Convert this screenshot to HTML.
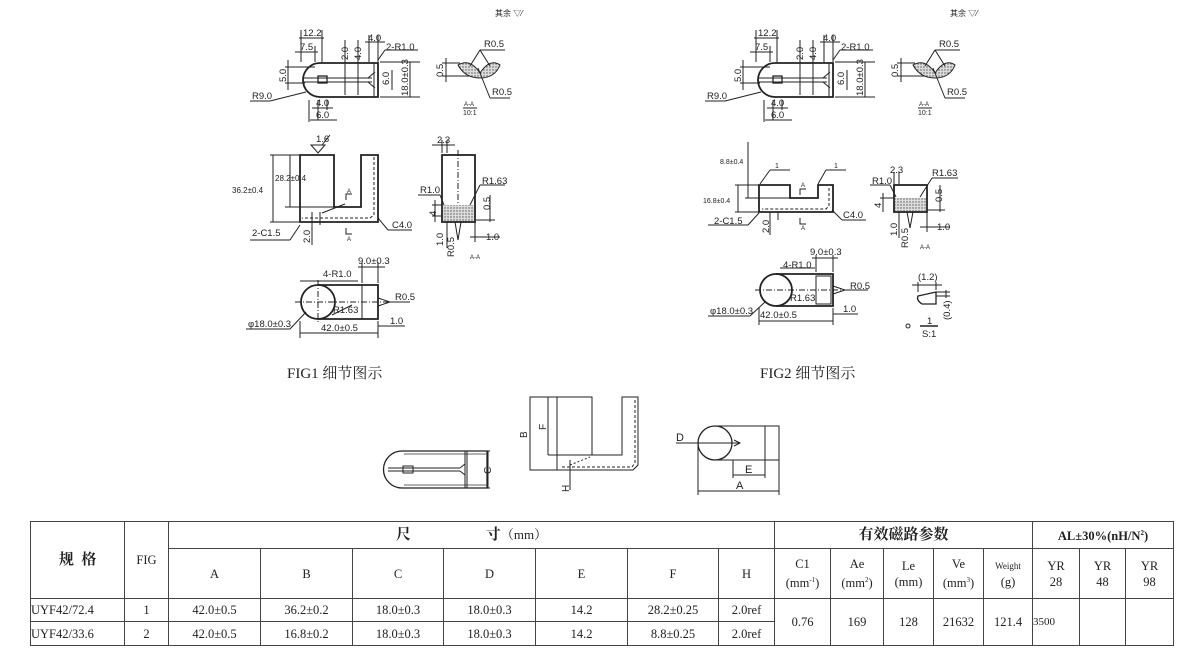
<!DOCTYPE html>
<html><head><meta charset="utf-8"><style>
body{margin:0;background:#fff;width:1180px;height:665px;overflow:hidden;position:relative;font-family:"Liberation Sans","Noto Sans CJK SC",sans-serif}
svg{position:absolute;left:0;top:0}
svg text{font-family:"Liberation Sans","Noto Sans CJK SC",sans-serif;font-size:9.5px;fill:#222}
.cap{position:absolute;font-family:"Liberation Serif","Noto Serif CJK SC",serif;font-size:15px;color:#222}
table{position:absolute;left:30px;top:521px;border-collapse:collapse;table-layout:fixed;font-family:"Liberation Serif","Noto Serif CJK SC",serif;color:#222}
td{border:1px solid #444;text-align:center;font-size:12.5px;padding:0;line-height:16px}
.h{font-size:15px;font-weight:bold}
</style></head><body>
<svg width="1180" height="665" viewBox="0 0 1180 665">
<defs>
<pattern id="dots" width="3" height="3" patternUnits="userSpaceOnUse"><rect width="3" height="3" fill="#ddd"/><circle cx="1" cy="1" r="0.7" fill="#555"/></pattern>
<g id="top" stroke="#222" fill="none" stroke-width="1">
 <path d="M320 63 L378 63 L378 97 L320 97 A17 17 0 0 1 320 63 Z" stroke-width="1.8"/>
 <line x1="304" y1="78" x2="372" y2="78"/><line x1="304" y1="82" x2="372" y2="82"/>
 <path d="M368 78 L375 72 M368 82 L375 88"/>
 <rect x="318" y="76" width="9" height="7" stroke-width="1.3"/>
 <line x1="374" y1="63" x2="374" y2="97"/>
 <line x1="301" y1="30" x2="301" y2="62"/><line x1="322" y1="30" x2="322" y2="62"/><line x1="299" y1="38" x2="324" y2="38"/>
 <line x1="315" y1="46" x2="315" y2="62"/><line x1="295" y1="52" x2="318" y2="52"/>
 <line x1="345" y1="40" x2="345" y2="95"/><line x1="358" y1="40" x2="358" y2="95"/>
 <line x1="369" y1="35" x2="369" y2="62"/><line x1="378" y1="35" x2="378" y2="62"/><line x1="365" y1="42" x2="385" y2="42"/>
 <line x1="380" y1="62" x2="420" y2="62"/><line x1="380" y1="97" x2="420" y2="97"/><line x1="410" y1="62" x2="410" y2="97"/><line x1="392" y1="70" x2="392" y2="90"/>
 <line x1="378" y1="60" x2="385" y2="50"/><line x1="385" y1="50" x2="418" y2="50"/>
 <line x1="285" y1="67" x2="315" y2="67"/><line x1="285" y1="83" x2="305" y2="83"/><line x1="288" y1="60" x2="288" y2="90"/>
 <line x1="250" y1="101" x2="270" y2="101"/><line x1="270" y1="101" x2="306" y2="92"/>
 <line x1="318" y1="100" x2="318" y2="120"/><line x1="327" y1="100" x2="327" y2="110"/><line x1="312" y1="108" x2="333" y2="108"/>
 <line x1="309" y1="100" x2="309" y2="122"/><line x1="310" y1="120" x2="337" y2="120"/>
 <path d="M458 65 Q470 58 480 73 Q490 58 500 65 Q495 78 480 78 Q465 78 458 65 Z" fill="url(#dots)"/>
 <line x1="442" y1="63" x2="460" y2="63"/><line x1="442" y1="76" x2="470" y2="76"/><line x1="446" y1="58" x2="446" y2="82"/>
 <line x1="470" y1="66" x2="480" y2="50"/><line x1="490" y1="66" x2="480" y2="50"/><line x1="480" y1="50" x2="505" y2="50"/>
 <line x1="478" y1="68" x2="490" y2="98"/><line x1="490" y1="98" x2="510" y2="98"/>
 <line x1="463" y1="108" x2="477" y2="108"/>
</g>
<g id="toptx">
 <text x="303" y="36">12.2</text><text x="300" y="50">7.5</text><text x="368" y="41">4.0</text><text x="386" y="50">2-R1.0</text>
 <text x="348" y="60" transform="rotate(-90 348 60)">2.0</text><text x="361" y="60" transform="rotate(-90 361 60)">4.0</text>
 <text x="389" y="85" transform="rotate(-90 389 85)">6.0</text><text x="408" y="96" transform="rotate(-90 408 96)">18.0±0.3</text>
 <text x="286" y="82" transform="rotate(-90 286 82)">5.0</text>
 <text x="252" y="99">R9.0</text><text x="316" y="106">4.0</text><text x="316" y="118">6.0</text>
 <text x="484" y="47">R0.5</text><text x="492" y="95">R0.5</text><text x="443" y="77" transform="rotate(-90 443 77)">0.5</text>
 <text x="464" y="106" style="font-size:6px">A-A</text><text x="463" y="115" style="font-size:7px">10:1</text>
 <text x="495" y="16" style="font-size:8px">其余 ▽⁄</text>
</g>
</defs>
<use href="#top"/><use href="#toptx"/>
<g transform="translate(455,0)"><use href="#top"/><use href="#toptx"/></g>

<g stroke="#222" fill="none" stroke-width="1">
 <path d="M300 155 L334 155 L334 207 L361 207 L361 155 L378 155 L378 222 L300 222 Z" stroke-width="1.8"/>
 <path d="M374 157 L374 215 L370 218 L302 218" stroke-dasharray="3,2"/>
 <line x1="270" y1="155" x2="300" y2="155"/><line x1="270" y1="222" x2="300" y2="222"/><line x1="273" y1="155" x2="273" y2="222"/>
 <line x1="285" y1="207" x2="334" y2="207"/><line x1="290" y1="155" x2="290" y2="207"/>
 <path d="M311 145 L325 145 L318 153 Z M322 145 L330 135"/>
 <line x1="312" y1="212" x2="312" y2="245"/><line x1="320" y1="212" x2="320" y2="225"/>
 <line x1="250" y1="240" x2="290" y2="240"/><line x1="290" y1="240" x2="300" y2="225"/>
 <line x1="378" y1="218" x2="388" y2="230"/><line x1="388" y1="230" x2="412" y2="230"/>
 <path d="M346 200 L346 194 L352 194 M346 228 L346 234 L352 234"/>
 <path d="M322 213 L345 204"/>
 <rect x="442" y="155" width="33" height="67" stroke-width="1.8"/>
 <rect x="443" y="205" width="31" height="16" fill="url(#dots)" stroke="none"/>
 <line x1="458" y1="150" x2="458" y2="205" stroke-dasharray="6,2,1,2"/>
 <path d="M455 222 L458 240 L461 222"/>
 <line x1="442" y1="140" x2="442" y2="153"/><line x1="447" y1="140" x2="447" y2="153"/><line x1="432" y1="145" x2="455" y2="145"/>
 <line x1="470" y1="205" x2="480" y2="185"/><line x1="480" y1="185" x2="505" y2="185"/>
 <line x1="418" y1="195" x2="440" y2="195"/><line x1="440" y1="195" x2="444" y2="205"/>
 <line x1="432" y1="205" x2="442" y2="205"/><line x1="432" y1="216" x2="442" y2="216"/><line x1="435" y1="200" x2="435" y2="222"/>
 <line x1="475" y1="220" x2="495" y2="220"/><line x1="490" y1="195" x2="490" y2="222"/>
 <line x1="447" y1="222" x2="447" y2="248"/><line x1="475" y1="222" x2="475" y2="242"/><line x1="470" y1="237" x2="500" y2="237"/>
 <circle cx="318" cy="302" r="17" stroke-width="1.8"/>
 <path d="M318 285 L378 285 L378 319 L318 319" stroke-width="1.8"/>
 <line x1="362" y1="285" x2="362" y2="319"/>
 <line x1="295" y1="302" x2="388" y2="302" stroke-dasharray="6,2,1,2"/><line x1="318" y1="280" x2="318" y2="324" stroke-dasharray="6,2,1,2"/>
 <path d="M378 298 L390 302 L378 306"/>
 <line x1="362" y1="262" x2="362" y2="283"/><line x1="378" y1="262" x2="378" y2="283"/><line x1="358" y1="267" x2="385" y2="267"/>
 <line x1="300" y1="281" x2="358" y2="281"/>
 <line x1="390" y1="302" x2="410" y2="302"/>
 <line x1="300" y1="321" x2="300" y2="338"/><line x1="378" y1="321" x2="378" y2="338"/><line x1="300" y1="333" x2="378" y2="333"/><line x1="378" y1="326" x2="405" y2="326"/>
 <line x1="246" y1="329" x2="290" y2="329"/><line x1="290" y1="329" x2="306" y2="312"/>
 <line x1="332" y1="315" x2="352" y2="305"/>
</g>
<g>
 <text x="316" y="142">1.6</text><text x="275" y="181" style="font-size:8px">28.2±0.4</text><text x="232" y="193" style="font-size:8px">36.2±0.4</text>
 <text x="252" y="236">2-C1.5</text><text x="392" y="228">C4.0</text><text x="310" y="243" transform="rotate(-90 310 243)">2.0</text>
 <text x="347" y="193" style="font-size:6px">A</text><text x="347" y="241" style="font-size:6px">A</text>
 <text x="437" y="143">2.3</text><text x="482" y="184">R1.63</text><text x="420" y="193">R1.0</text>
 <text x="436" y="216" transform="rotate(-90 436 216)">4</text><text x="490" y="210" transform="rotate(-90 490 210)">0.5</text>
 <text x="486" y="240">1.0</text><text x="443" y="246" transform="rotate(-90 443 246)">1.0</text><text x="454" y="257" transform="rotate(-90 454 257)">R0.5</text>
 <text x="470" y="259" style="font-size:6px">A-A</text>
 <text x="358" y="264">9.0±0.3</text><text x="323" y="277">4-R1.0</text><text x="333" y="313">R1.63</text><text x="395" y="300">R0.5</text>
 <text x="248" y="327">φ18.0±0.3</text><text x="321" y="331">42.0±0.5</text><text x="390" y="324">1.0</text>
</g>

<g stroke="#222" fill="none" stroke-width="1">
 <path d="M759 185 L790 185 L790 198 L818 198 L818 185 L833 185 L833 212 L759 212 Z" stroke-width="1.8"/>
 <path d="M829 188 L829 206 L826 209 L762 209" stroke-dasharray="3,2"/>
 <line x1="748" y1="142" x2="748" y2="198"/><line x1="735" y1="185" x2="759" y2="185"/><line x1="735" y1="212" x2="759" y2="212"/><line x1="738" y1="185" x2="738" y2="212"/>
 <line x1="745" y1="198" x2="790" y2="198"/>
 <line x1="760" y1="184" x2="770" y2="170"/><line x1="770" y1="170" x2="790" y2="170"/>
 <line x1="818" y1="184" x2="826" y2="170"/><line x1="826" y1="170" x2="846" y2="170"/>
 <line x1="708" y1="225" x2="748" y2="225"/><line x1="748" y1="225" x2="759" y2="213"/>
 <line x1="832" y1="210" x2="842" y2="220"/><line x1="842" y1="220" x2="866" y2="220"/>
 <line x1="770" y1="212" x2="770" y2="235"/><line x1="778" y1="212" x2="778" y2="220"/>
 <path d="M800 195 L800 189 L806 189 M800 218 L800 224 L806 224"/>
 <rect x="894" y="185" width="33" height="27" stroke-width="1.8"/>
 <rect x="895" y="198" width="31" height="13" fill="url(#dots)" stroke="none"/>
 <path d="M907 212 L910 228 L913 212"/>
 <line x1="894" y1="172" x2="894" y2="184"/><line x1="899" y1="172" x2="899" y2="184"/>
 <line x1="920" y1="197" x2="932" y2="178"/><line x1="932" y1="178" x2="958" y2="178"/>
 <line x1="870" y1="185" x2="890" y2="185"/><line x1="890" y1="185" x2="896" y2="197"/>
 <line x1="880" y1="198" x2="894" y2="198"/><line x1="883" y1="193" x2="883" y2="212"/>
 <line x1="927" y1="210" x2="945" y2="210"/><line x1="940" y1="185" x2="940" y2="212"/>
 <line x1="899" y1="212" x2="899" y2="238"/><line x1="927" y1="212" x2="927" y2="232"/><line x1="920" y1="227" x2="950" y2="227"/>
 <circle cx="776" cy="290" r="16" stroke-width="1.8"/>
 <path d="M776 274 L833 274 L833 306 L776 306" stroke-width="1.8"/>
 <rect x="816" y="276" width="15" height="28"/>
 <line x1="755" y1="290" x2="845" y2="290" stroke-dasharray="6,2,1,2"/>
 <path d="M833 286 L845 290 L833 294"/><line x1="845" y1="290" x2="868" y2="290"/>
 <line x1="816" y1="255" x2="816" y2="272"/><line x1="833" y1="255" x2="833" y2="272"/><line x1="812" y1="258" x2="838" y2="258"/>
 <line x1="780" y1="268" x2="815" y2="268"/>
 <line x1="759" y1="308" x2="759" y2="325"/><line x1="833" y1="308" x2="833" y2="325"/><line x1="759" y1="321" x2="833" y2="321"/><line x1="833" y1="314" x2="858" y2="314"/>
 <line x1="708" y1="316" x2="750" y2="316"/><line x1="750" y1="316" x2="765" y2="302"/>
 <path d="M918 296 L936 292 L936 304 L922 304 Q916 300 918 296 Z" stroke-width="1.3"/>
 <line x1="918" y1="282" x2="918" y2="292"/><line x1="936" y1="282" x2="936" y2="290"/><line x1="912" y1="285" x2="942" y2="285"/>
 <line x1="936" y1="292" x2="950" y2="292"/><line x1="936" y1="296" x2="950" y2="296"/><line x1="946" y1="290" x2="946" y2="298"/>
 <line x1="920" y1="326" x2="938" y2="326" stroke-width="1.5"/>
 <circle cx="908" cy="326" r="2"/>
</g>
<g>
 <text x="720" y="164" style="font-size:7px">8.8±0.4</text><text x="703" y="203" style="font-size:7px">16.8±0.4</text>
 <text x="775" y="168" style="font-size:7px">1</text><text x="834" y="168" style="font-size:7px">1</text>
 <text x="714" y="224">2-C1.5</text><text x="843" y="218">C4.0</text><text x="769" y="233" transform="rotate(-90 769 233)">2.0</text>
 <text x="801" y="187" style="font-size:6px">A</text><text x="801" y="230" style="font-size:6px">A</text>
 <text x="890" y="173">2.3</text><text x="932" y="176">R1.63</text><text x="872" y="184">R1.0</text>
 <text x="881" y="208" transform="rotate(-90 881 208)">4</text><text x="942" y="202" transform="rotate(-90 942 202)">0.5</text>
 <text x="937" y="230">1.0</text><text x="897" y="236" transform="rotate(-90 897 236)">1.0</text><text x="908" y="248" transform="rotate(-90 908 248)">R0.5</text>
 <text x="920" y="249" style="font-size:6px">A-A</text>
 <text x="810" y="255">9.0±0.3</text><text x="783" y="268">4-R1.0</text><text x="790" y="301">R1.63</text><text x="850" y="289">R0.5</text>
 <text x="710" y="314">φ18.0±0.3</text><text x="760" y="318">42.0±0.5</text><text x="843" y="312">1.0</text>
 <text x="918" y="280">(1.2)</text><text x="950" y="320" transform="rotate(-90 950 320)">(0.4)</text>
 <text x="927" y="324">1</text><text x="922" y="337">S:1</text>
</g>

<g stroke="#222" fill="none" stroke-width="1">
 <path d="M402 451 L487 451 L487 488 L402 488 A18 18 0 0 1 402 451 Z" stroke-width="1.3"/>
 <path d="M404 454 L487 454 M404 485 L487 485" stroke="#666"/>
 <line x1="465" y1="451" x2="465" y2="488"/><line x1="467" y1="451" x2="467" y2="488"/>
 <line x1="388" y1="468" x2="460" y2="468"/><line x1="388" y1="471" x2="460" y2="471"/>
 <path d="M460 468 L465 464 M460 471 L465 475"/>
 <rect x="403" y="466" width="10" height="7"/>
 <line x1="487" y1="451" x2="490" y2="451"/><line x1="487" y1="488" x2="490" y2="488"/><line x1="488" y1="451" x2="488" y2="488"/>
 <path d="M530 397 L592 397 L592 455 L622 455 L622 397 L638 397 L638 465 L633 470 L530 470 Z"/>
 <line x1="548" y1="397" x2="548" y2="455"/><line x1="548" y1="455" x2="592" y2="455"/><line x1="557" y1="397" x2="557" y2="470"/>
 <path d="M635 400 L635 463 L632 467 L560 467" stroke-dasharray="3,2"/>
 <line x1="570" y1="460" x2="570" y2="490"/><line x1="565" y1="470" x2="580" y2="470"/>
 <line x1="570" y1="465" x2="590" y2="457" stroke-dasharray="2,2"/>
 <circle cx="715" cy="443" r="17" stroke-width="1.3"/>
 <path d="M715 426 L779 426 L779 460 L715 460"/>
 <line x1="765" y1="426" x2="765" y2="478"/><line x1="733" y1="460" x2="733" y2="478"/><line x1="733" y1="475" x2="765" y2="475"/>
 <line x1="676" y1="443" x2="740" y2="443"/><path d="M734 440 L740 443 L734 446"/>
 <line x1="698" y1="445" x2="698" y2="495"/><line x1="779" y1="460" x2="779" y2="495"/><line x1="698" y1="491" x2="779" y2="491"/>
</g>
<g>
 <text x="491" y="474" transform="rotate(-90 491 474)" style="font-size:10px">C</text>
 <text x="527" y="438" transform="rotate(-90 527 438)" style="font-size:10px">B</text>
 <text x="546" y="430" transform="rotate(-90 546 430)" style="font-size:10px">F</text>
 <text x="569" y="492" transform="rotate(-90 569 492)" style="font-size:10px">H</text>
 <text x="676" y="441" style="font-size:11px">D</text><text x="745" y="473" style="font-size:11px">E</text><text x="736" y="489" style="font-size:11px">A</text>
</g>
</svg>
<div class="cap" style="left:287px;top:362px">FIG1 细节图示</div>
<div class="cap" style="left:760px;top:362px">FIG2 细节图示</div>
<table>
<colgroup><col style="width:94px"><col style="width:44px"><col style="width:92px"><col style="width:92px"><col style="width:91px"><col style="width:92px"><col style="width:92px"><col style="width:91px"><col style="width:56px"><col style="width:56px"><col style="width:53px"><col style="width:50px"><col style="width:50px"><col style="width:49px"><col style="width:47px"><col style="width:46px"><col style="width:48px"></colgroup>
<tr style="height:27px"><td rowspan="2" class="h">规&nbsp;&nbsp;格</td><td rowspan="2">FIG</td><td colspan="7" class="h">尺&nbsp;&nbsp;&nbsp;&nbsp;&nbsp;&nbsp;&nbsp;&nbsp;&nbsp;&nbsp;&nbsp;&nbsp;&nbsp;&nbsp;&nbsp;&nbsp;&nbsp;&nbsp;&nbsp;&nbsp;寸<span style="font-weight:normal;font-size:13px">（mm）</span></td><td colspan="5" class="h">有效磁路参数</td><td colspan="3" style="font-weight:bold">AL±30%(nH/N<sup style="font-size:7px">2</sup>)</td></tr>
<tr style="height:50px"><td>A</td><td>B</td><td>C</td><td>D</td><td>E</td><td>F</td><td>H</td><td>C1<br>(mm<sup style="font-size:7px">-1</sup>)</td><td>Ae<br>(mm<sup style="font-size:7px">2</sup>)</td><td>Le<br>(mm)</td><td>Ve<br>(mm<sup style="font-size:7px">3</sup>)</td><td><span style="font-size:9px">Weight</span><br>(g)</td><td>YR<br>28</td><td>YR<br>48</td><td>YR<br>98</td></tr>
<tr style="height:23px"><td style="text-align:left">UYF42/72.4</td><td>1</td><td>42.0±0.5</td><td>36.2±0.2</td><td>18.0±0.3</td><td>18.0±0.3</td><td>14.2</td><td>28.2±0.25</td><td>2.0ref</td><td rowspan="2">0.76</td><td rowspan="2">169</td><td rowspan="2">128</td><td rowspan="2">21632</td><td rowspan="2">121.4</td><td rowspan="2" style="text-align:left;font-size:11px">3500</td><td rowspan="2"></td><td rowspan="2"></td></tr>
<tr style="height:24px"><td style="text-align:left">UYF42/33.6</td><td>2</td><td>42.0±0.5</td><td>16.8±0.2</td><td>18.0±0.3</td><td>18.0±0.3</td><td>14.2</td><td>8.8±0.25</td><td>2.0ref</td></tr>
</table>
</body></html>
